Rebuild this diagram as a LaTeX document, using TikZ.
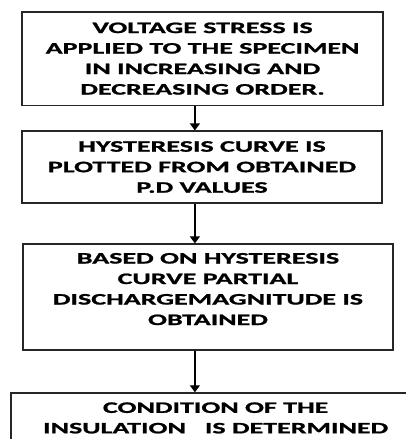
\documentclass[tikz,border=0pt]{standalone}
\usepackage{fontspec}
\setmainfont{Carlito}
\newfontfamily\boxfont[FakeStretch=1.75, FakeBold=1.2]{Carlito Bold}
\usepackage{tikz}
\usetikzlibrary{positioning, arrows.meta}

\begin{document}
\begin{tikzpicture}[
    font=\boxfont\fontsize{16pt}{20.5pt}\selectfont,
    stepbox/.style={rectangle, draw=black!85, line width=1.2pt, align=center,
        text=black, inner sep=0pt, minimum width=12.69cm},
    arr/.style={-{Triangle[length=7pt, width=10pt]}, line width=1.3pt, black}
]
\useasboundingbox (0,0) rectangle (14.24,-15.43);
\node[stepbox, minimum height=3.27cm] (volt) at (7.12,-2.06)
    {VOLTAGE STRESS IS\\APPLIED TO THE SPECIMEN\\IN INCREASING AND\\DECREASING ORDER.};
\node[stepbox, minimum width=12.65cm, minimum height=2.53cm] (hyst) at (7.10,-5.87)
    {HYSTERESIS CURVE IS\\PLOTTED FROM OBTAINED\\P.D VALUES};
\node[stepbox, minimum width=13.01cm, minimum height=3.73cm] (pdmag) at (7.31,-10.44)
    {BASED ON HYSTERESIS\\CURVE PARTIAL\\DISCHARGEMAGNITUDE IS\\OBTAINED\\[-4.5pt]\mbox{}};
\node[stepbox, minimum width=14.38cm, minimum height=1.76cm] (cond) at (7.58,-14.69)
    {CONDITION OF THE\\INSULATION\ \ \ IS DETERMINED};

% arrows run a bit left of the box centres
\coordinate (ax) at (6.85,0);
\foreach \a/\b in {volt/hyst, hyst/pdmag, pdmag/cond}
    \draw[arr] (\a.south -| ax) -- (\b.north -| ax);
\end{tikzpicture}
\end{document}
